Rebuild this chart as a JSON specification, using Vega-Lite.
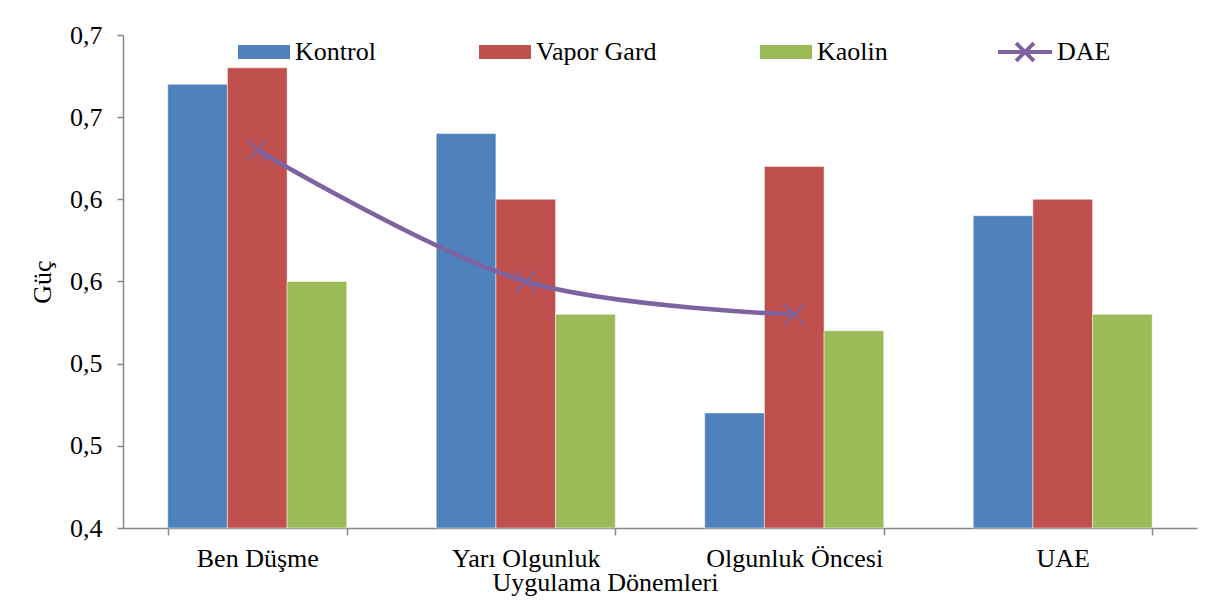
{
  "$schema": "https://vega.github.io/schema/vega-lite/v6.json",
  "width": 1074,
  "height": 493,
  "autosize": {"type": "none"},
  "padding": {"left": 123, "top": 35, "right": 35, "bottom": 77},
  "background": "white",
  "datasets": {
    "bars": [
      {"Dönem": "Ben Düşme", "Seri": "Kontrol", "Güç": 0.67},
      {"Dönem": "Ben Düşme", "Seri": "Vapor Gard", "Güç": 0.68},
      {"Dönem": "Ben Düşme", "Seri": "Kaolin", "Güç": 0.55},
      {"Dönem": "Yarı Olgunluk", "Seri": "Kontrol", "Güç": 0.64},
      {"Dönem": "Yarı Olgunluk", "Seri": "Vapor Gard", "Güç": 0.60},
      {"Dönem": "Yarı Olgunluk", "Seri": "Kaolin", "Güç": 0.53},
      {"Dönem": "Olgunluk Öncesi", "Seri": "Kontrol", "Güç": 0.47},
      {"Dönem": "Olgunluk Öncesi", "Seri": "Vapor Gard", "Güç": 0.62},
      {"Dönem": "Olgunluk Öncesi", "Seri": "Kaolin", "Güç": 0.52},
      {"Dönem": "UAE", "Seri": "Kontrol", "Güç": 0.59},
      {"Dönem": "UAE", "Seri": "Vapor Gard", "Güç": 0.60},
      {"Dönem": "UAE", "Seri": "Kaolin", "Güç": 0.53}
    ],
    "dae": [
      {"Dönem": "Ben Düşme", "Seri": "DAE", "Güç": 0.63},
      {"Dönem": "Yarı Olgunluk", "Seri": "DAE", "Güç": 0.55},
      {"Dönem": "Olgunluk Öncesi", "Seri": "DAE", "Güç": 0.53}
    ]
  },
  "encoding": {
    "x": {
      "field": "Dönem",
      "type": "nominal",
      "sort": ["Ben Düşme", "Yarı Olgunluk", "Olgunluk Öncesi", "UAE"],
      "scale": {"domain": ["Ben Düşme", "Yarı Olgunluk", "Olgunluk Öncesi", "UAE"], "paddingInner": 0.3333, "paddingOuter": 0.1667},
      "axis": {
        "title": "Uygulama Dönemleri",
        "labelAngle": 0,
        "tickBand": "extent",
        "tickSize": 7,
        "labelPadding": 10,
        "titleX": 482,
        "titleY": 62,
        "titleBaseline": "alphabetic",
        "titleAlign": "center"
      }
    },
    "y": {
      "field": "Güç",
      "type": "quantitative",
      "scale": {"domain": [0.4, 0.7], "zero": false, "nice": false},
      "axis": {
        "title": "Güç",
        "values": [0.4, 0.45, 0.5, 0.55, 0.6, 0.65, 0.7],
        "labelExpr": "replace(format(datum.value, '.1f'), '.', ',')",
        "tickSize": 6,
        "labelPadding": 15,
        "titlePadding": 14,
        "grid": false
      }
    }
  },
  "layer": [
    {
      "data": {"name": "bars"},
      "mark": {"type": "bar", "stroke": "#ffffff", "strokeWidth": 0.8, "strokeOpacity": 0.6},
      "encoding": {
        "y2": {"datum": 0.4},
        "xOffset": {
          "field": "Seri",
          "type": "nominal",
          "sort": ["Kontrol", "Vapor Gard", "Kaolin"],
          "scale": {"paddingInner": 0, "paddingOuter": 0}
        },
        "color": {
          "field": "Seri",
          "type": "nominal",
          "scale": {"domain": ["Kontrol", "Vapor Gard", "Kaolin"], "range": ["#4F81BD", "#C0504D", "#9BBB59"]},
          "legend": {
            "title": null,
            "orient": "none",
            "direction": "horizontal",
            "legendX": 115,
            "legendY": -9,
            "padding": 0,
            "columnPadding": 103,
            "symbolType": "M-1,-0.27L1,-0.27L1,0.27L-1,0.27Z",
            "symbolSize": 2704,
            "symbolStrokeWidth": 0,
            "symbolOpacity": 1,
            "labelOffset": 5,
            "labelFont": "Liberation Serif",
            "labelFontSize": 26
          }
        }
      }
    },
    {
      "data": {"name": "dae"},
      "mark": {"type": "line", "interpolate": "catmull-rom", "strokeWidth": 4.5, "strokeCap": "round"},
      "encoding": {
        "stroke": {
          "field": "Seri",
          "type": "nominal",
          "scale": {"domain": ["DAE"], "range": ["#7F63A1"]},
          "legend": {
            "title": null,
            "orient": "none",
            "direction": "horizontal",
            "legendX": 873,
            "legendY": -12,
            "padding": 0,
            "symbolType": "M-1,0L1,0M-0.33,-0.33L0.33,0.33M-0.33,0.33L0.33,-0.33",
            "symbolSize": 2916,
            "symbolStrokeWidth": 4,
            "symbolFillColor": "transparent",
            "labelOffset": 3,
            "labelFont": "Liberation Serif",
            "labelFontSize": 26
          }
        }
      }
    },
    {
      "data": {"name": "dae"},
      "mark": {"type": "point", "shape": "M-1,-1L1,1M-1,1L1,-1", "size": 400, "filled": false, "strokeWidth": 2, "color": "#7F63A1", "opacity": 1}
    }
  ],
  "config": {
    "view": {"stroke": null},
    "font": "Liberation Serif",
    "axis": {
      "labelFont": "Liberation Serif",
      "titleFont": "Liberation Serif",
      "labelFontSize": 26,
      "titleFontSize": 26,
      "titleFontWeight": "normal",
      "labelColor": "#000000",
      "titleColor": "#000000",
      "domainColor": "#868686",
      "tickColor": "#868686",
      "domainWidth": 1.5,
      "tickWidth": 1.5
    },
    "legend": {
      "labelFont": "Liberation Serif",
      "labelFontSize": 26,
      "labelColor": "#000000",
      "labelLimit": 400
    }
  }
}
